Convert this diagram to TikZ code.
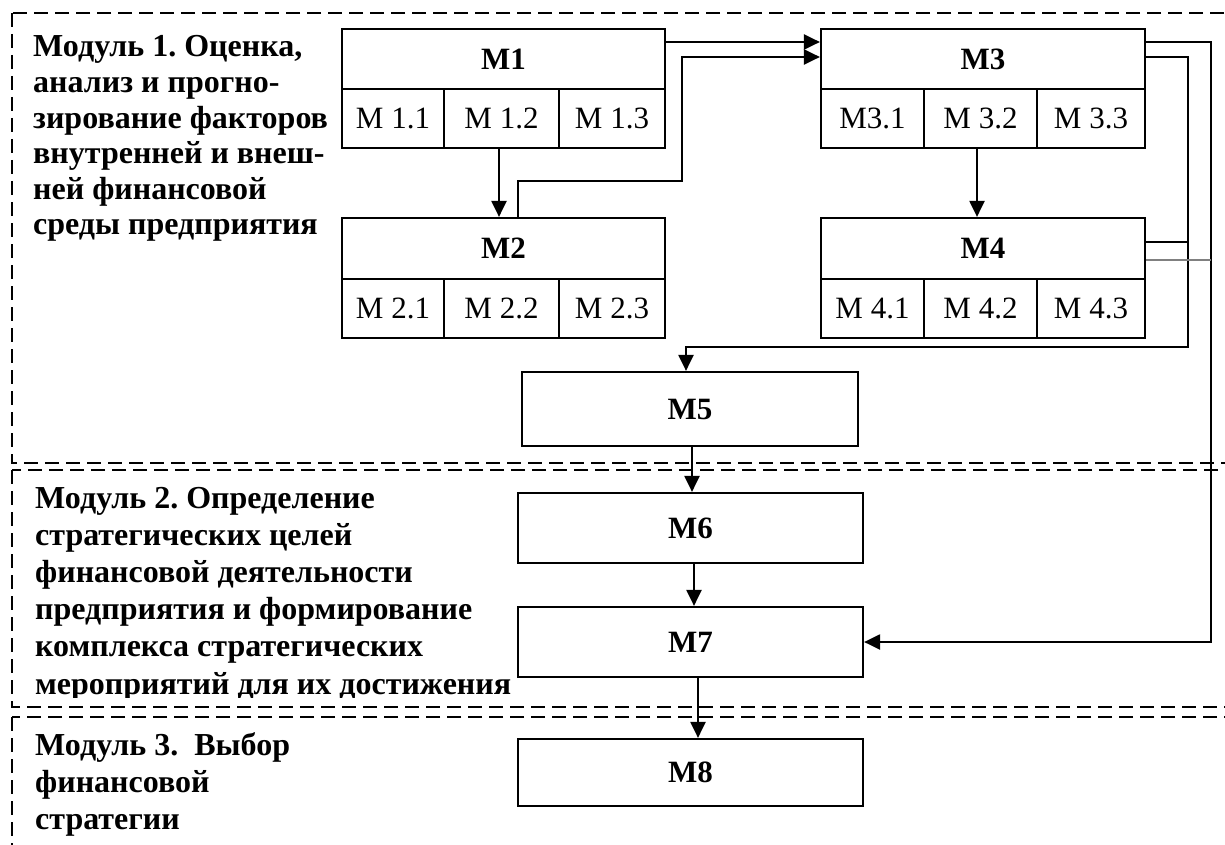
\documentclass[tikz,border=0pt]{standalone}
\usepackage{fontspec}
\setmainfont{Liberation Serif}
\usetikzlibrary{arrows.meta}
\frenchspacing
\begin{document}
\begin{tikzpicture}[x=1pt,y=-1pt,
  box/.style={draw, line width=2.2pt, inner sep=0pt, font=\fontsize{31}{36}\selectfont},
  hbox/.style={box, font=\fontsize{31}{36}\selectfont\bfseries},
  arr/.style={line width=2.2pt, -{Triangle[length=16pt,width=15pt]}},
  ln/.style={line width=2.2pt},
  dashbox/.style={line width=1.8pt, dash pattern=on 14pt off 7pt},
  modtext/.style={anchor=base west, inner sep=0pt, font=\fontsize{32}{35}\selectfont\bfseries}
]
\useasboundingbox (0,0) rectangle (1225,845);
\clip (0,0) rectangle (1225,845);
\fill[white] (0,0) rectangle (1225,845);

% module frames
\draw[dashbox] (12,13) rectangle (1260,463);
\draw[dashbox] (12,470) rectangle (1260,707);
\draw[dashbox] (12,717) rectangle (1260,880);

% module texts
\node[modtext] (t1) at (33,57) {\vtop{\baselineskip=35.6pt
  \hbox{Модуль 1. Оценка,}\hbox{анализ и прогно-}\hbox{зирование факторов}
  \hbox{внутренней и внеш-}\hbox{ней финансовой}\hbox{среды предприятия}}};
\begin{scope}
\clip (0,470) rectangle (600,697);
\node[modtext] (t2) at (35,508) {\vtop{\baselineskip=37.2pt
  \hbox{Модуль 2. Определение}\hbox{стратегических целей}\hbox{финансовой деятельности}
  \hbox{предприятия и формирование}\hbox{комплекса стратегических}\hbox{мероприятий для их достижения}}};
\end{scope}
\node[modtext] (t3) at (35,755) {\vtop{\baselineskip=37pt
  \hbox{Модуль 3.\ \ Выбор}\hbox{финансовой}\hbox{стратегии}}};

% M1
\node[hbox, minimum width=323pt, minimum height=60pt] (m1h) at (503.5,59) {M1};
\node[box, minimum width=102pt, minimum height=59pt] (m1c1) at (393,118.5) {M 1.1};
\node[box, minimum width=115pt, minimum height=59pt] (m1c2) at (501.5,118.5) {M 1.2};
\node[box, minimum width=106pt, minimum height=59pt] (m1c3) at (612,118.5) {M 1.3};
% M2
\node[hbox, minimum width=323pt, minimum height=61pt] (m2h) at (503.5,248.5) {M2};
\node[box, minimum width=102pt, minimum height=59pt] (m2c1) at (393,308.5) {M 2.1};
\node[box, minimum width=115pt, minimum height=59pt] (m2c2) at (501.5,308.5) {M 2.2};
\node[box, minimum width=106pt, minimum height=59pt] (m2c3) at (612,308.5) {M 2.3};
% M3
\node[hbox, minimum width=324pt, minimum height=60pt] (m3h) at (983,59) {M3};
\node[box, minimum width=103pt, minimum height=59pt] (m3c1) at (872.5,118.5) {M3.1};
\node[box, minimum width=113pt, minimum height=59pt] (m3c2) at (980.5,118.5) {M 3.2};
\node[box, minimum width=108pt, minimum height=59pt] (m3c3) at (1091,118.5) {M 3.3};
% M4
\node[hbox, minimum width=324pt, minimum height=61pt] (m4h) at (983,248.5) {M4};
\node[box, minimum width=103pt, minimum height=59pt] (m4c1) at (872.5,308.5) {M 4.1};
\node[box, minimum width=113pt, minimum height=59pt] (m4c2) at (980.5,308.5) {M 4.2};
\node[box, minimum width=108pt, minimum height=59pt] (m4c3) at (1091,308.5) {M 4.3};
% M5-M8
\node[hbox, minimum width=336pt, minimum height=74pt] (m5) at (690,409) {M5};
\node[hbox, minimum width=345pt, minimum height=70pt] (m6) at (690.5,528) {M6};
\node[hbox, minimum width=345pt, minimum height=70pt] (m7) at (690.5,642) {M7};
\node[hbox, minimum width=345pt, minimum height=67pt] (m8) at (690.5,772.5) {M8};

% connectors
\draw[arr] (m1c2.south -| 499,0) -- (m2h.north -| 499,0);
\draw[arr] (m2h.north -| 518,0) -- (518,181) -- (682,181) -- (682,57) -- (m3h.west |- 0,57);
\draw[arr] (m1h.east |- 0,42) -- (m3h.west |- 0,42);
\draw[arr] (m3h.east |- 0,42) -- (1211,42) -- (1211,642) -- (m7.east);
\draw[arr] (m3h.east |- 0,57) -- (1188,57) -- (1188,347) -- (686,347) -- (m5.north -| 686,0);
\draw[ln] (m4h.east |- 0,242) -- (1188,242);
\draw[gray, line width=1.2pt] (m4h.east |- 0,260) -- (1211,260);
\draw[arr] (m3c2.south -| 977,0) -- (m4h.north -| 977,0);
\draw[arr] (m5.south -| 692,0) -- (m6.north -| 692,0);
\draw[arr] (m6.south -| 694,0) -- (m7.north -| 694,0);
\draw[arr] (m7.south -| 698,0) -- (m8.north -| 698,0);
\end{tikzpicture}
\end{document}
